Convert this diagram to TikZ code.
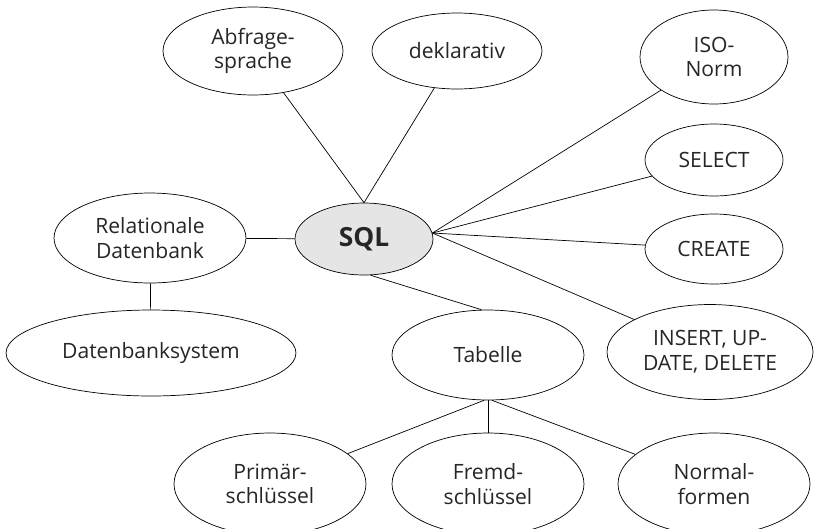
\documentclass[tikz,border=0pt]{standalone}
\usepackage{fontspec}
\setmainfont{Open Sans}
\usetikzlibrary{shapes.geometric}
\begin{document}
\begin{tikzpicture}[x=0.02cm, y=0.02cm]
			\tikzstyle{every node}+=[inner sep=0pt]
			\tikzstyle{term}=[ellipse, draw=black, fill=white, text=black!85, align=center, font=\fontsize{12}{14}\selectfont]
			\tikzstyle{core}=[term, fill=black!10, font=\fontsize{15}{17}\selectfont\bfseries]
			\useasboundingbox (0,0) rectangle (814,-528);
			\clip (0,0) rectangle (814,-528);
			\node [core, minimum width=2.76cm, minimum height=1.44cm] (sql) at (364,-239) {SQL};
			\node [term, minimum width=3.6cm, minimum height=1.76cm] (abf) at (253,-51) {Abfrage-\\sprache};
			\node [term, minimum width=3.4cm, minimum height=1.52cm] (dekl) at (457,-51) {deklarativ};
			\node [term, minimum width=2.96cm, minimum height=1.88cm] (iso) at (714,-57) {ISO-\\Norm};
			\node [term, minimum width=2.76cm, minimum height=1.44cm] (sel) at (714,-160) {SELECT};
			\node [term, minimum width=2.76cm, minimum height=1.4cm] (cre) at (714,-249) {CREATE};
			\node [term, minimum width=4.12cm, minimum height=1.9cm] (ins) at (710,-352) {INSERT, UP-\\DATE, DELETE};
			\node [term, minimum width=3.84cm, minimum height=1.8cm] (rel) at (150,-238) {Relationale\\Datenbank};
			\node [term, minimum width=5.8cm, minimum height=1.72cm] (dbs) at (151,-353) {Datenbanksystem};
			\node [term, minimum width=3.84cm, minimum height=1.8cm] (tab) at (488,-355) {Tabelle};
			\node [term, minimum width=3.84cm, minimum height=2.04cm] (prim) at (270,-484) {Primär-\\schlüssel};
			\node [term, minimum width=3.84cm, minimum height=2.04cm] (fremd) at (488,-484) {Fremd-\\schlüssel};
			\node [term, minimum width=3.84cm, minimum height=2.04cm] (norm) at (714,-484) {Normal-\\formen};
			\draw [black] (abf) -- (sql.north);
			\draw [black] (dekl) -- (sql.north);
			\draw [black] (rel) -- (sql);
			\draw [black] (rel) -- (dbs);
			\draw [black] (iso) -- (sql.5);
			\draw [black] (sel) -- (sql.5);
			\draw [black] (cre) -- (sql.5);
			\draw [black] (ins) -- (sql.5);
			\draw [black] (sql.280) -- (tab.98);
			\draw [black] (tab.265) -- (prim);
			\draw [black] (tab.south) -- (fremd);
			\draw [black] (tab.275) -- (norm);
		\end{tikzpicture}
\end{document}
